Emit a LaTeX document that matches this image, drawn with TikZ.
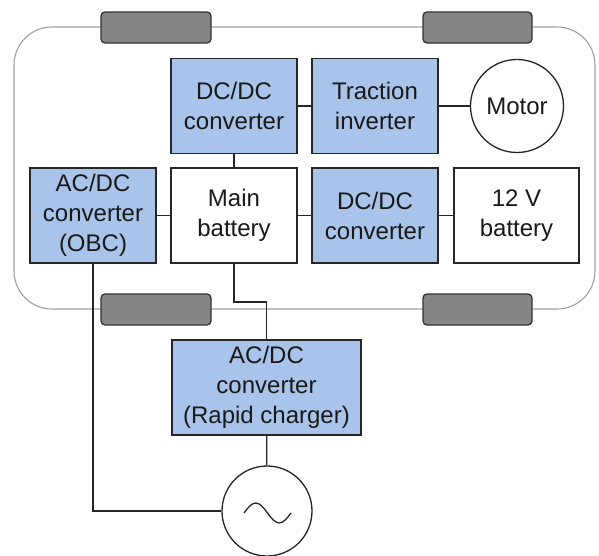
\documentclass[tikz,border=0pt]{standalone}
\usepackage{fontspec}
\setmainfont{Liberation Sans}
\definecolor{boxblue}{HTML}{A8C4EB}
\definecolor{wheelgray}{HTML}{858585}
\definecolor{bodygray}{HTML}{A0A0A0}
\begin{document}
\begin{tikzpicture}[x=1pt,y=-1pt,
  every node/.style={font=\fontsize{24}{30}\selectfont, align=center, inner sep=0pt, text=black!90},
  bluebox/.style={draw=black!85, line width=1.3pt, fill=boxblue, minimum width=126pt, minimum height=95pt},
  whitebox/.style={draw=black!85, line width=1.3pt, fill=white, minimum width=126pt, minimum height=95pt},
  roundnode/.style={draw=black!85, line width=1.3pt, fill=white, circle, minimum size=93pt},
  wheel/.style={draw=black!80, line width=1.3pt, fill=wheelgray, rounded corners=4pt},
  wire/.style={draw=black!85, line width=1.3pt}]
\useasboundingbox (0,0) rectangle (599,555);
% car body
\draw[bodygray, line width=1.1pt, rounded corners=38pt] (14,27) rectangle (595,309);
% wheels
\draw[wheel] (101,12) rectangle (211,43);
\draw[wheel] (423,12) rectangle (532,43);
\draw[wheel] (101,294) rectangle (211,325);
\draw[wheel] (423,294) rectangle (532,325);
% nodes
\node[bluebox] (dc1) at (234,106) {DC/DC\\converter};
\node[bluebox] (trac) at (375,106) {Traction\\inverter};
\node[roundnode] (motor) at (517,106) {Motor};
\node[bluebox] (obc) at (93,215.5) {AC/DC\\converter\\(OBC)};
\node[whitebox] (main) at (234,215.5) {Main\\battery};
\node[bluebox] (dc2) at (375,215.5) {DC/DC\\converter};
\node[whitebox, minimum width=125pt] (v12) at (516.5,215.5) {12 V\\battery};
\node[bluebox, minimum width=189pt] (rapid) at (266.5,387.5) {AC/DC\\converter\\(Rapid charger)};
\node[roundnode, minimum size=90pt] (ac) at (267,511) {};
% connectors
\draw[wire] (dc1) -- (trac);
\draw[wire] (trac) -- (motor);
\draw[wire] (dc1) -- (main);
\draw[wire] (obc) -- (main);
\draw[wire] (main) -- (dc2);
\draw[wire] (dc2) -- (v12);
\coordinate (bend) at (234,302);
\draw[wire] (main.south) -- (bend) -| (rapid.north);
\draw[wire] (rapid) -- (ac);
\draw[wire] (obc.south) |- (ac.west);
% sine
\draw[black!85, line width=1.3pt] (244,513) sin (255.75,503) cos (267.5,513) sin (279.25,523) cos (291,513);
\end{tikzpicture}
\end{document}
